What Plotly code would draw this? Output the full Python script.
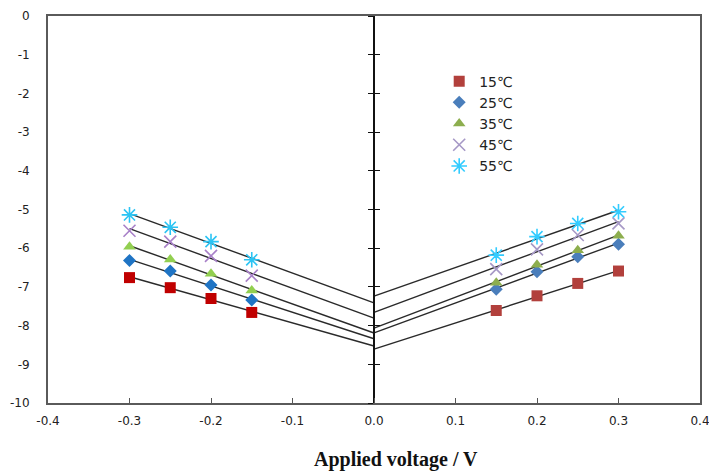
import numpy as np
import plotly.graph_objects as go

# Applied voltage (V) at which each temperature was measured
v_neg = [-0.30, -0.25, -0.20, -0.15]
v_pos = [0.15, 0.20, 0.25, 0.30]

temps = ["15℃", "25℃", "35℃", "45℃", "55℃"]

# Response at negative bias, one list per temperature
neg_15 = [-6.76, -7.02, -7.30, -7.66]
neg_25 = [-6.32, -6.59, -6.95, -7.34]
neg_35 = [-5.96, -6.29, -6.66, -7.09]
neg_45 = [-5.55, -5.83, -6.20, -6.71]
neg_55 = [-5.14, -5.46, -5.83, -6.30]

# Response at positive bias, one list per temperature
pos_15 = [-7.61, -7.23, -6.91, -6.59]
pos_25 = [-7.06, -6.61, -6.22, -5.90]
pos_35 = [-6.89, -6.43, -6.05, -5.68]
pos_45 = [-6.54, -6.03, -5.66, -5.36]
pos_55 = [-6.18, -5.70, -5.36, -5.06]

y_ticks = [0, -1, -2, -3, -4, -5, -6, -7, -8, -9, -10]
y_tick_text = ["0", "-1", "-2", "-3", "-4", "-5", "-6", "-7", "-8", "-9", "-10"]
x_ticks = [-0.4, -0.3, -0.2, -0.1, 0.0, 0.1, 0.2, 0.3, 0.4]
x_tick_text = ["-0.4", "-0.3", "-0.2", "-0.1", "0.0", "0.1", "0.2", "0.3", "0.4"]

neg_series = [neg_15, neg_25, neg_35, neg_45, neg_55]
pos_series = [pos_15, pos_25, pos_35, pos_45, pos_55]

symbols = ["square", "diamond", "triangle-up", "x-thin-open", "asterisk-open"]
sizes = [11, 10, 11, 12, 13]
neg_colors = ["#C00000", "#1F74C4", "#92CF50", "#A880C8", "#2BC4F4"]
pos_colors = ["#B2403C", "#4A7EBB", "#8DAE4E", "#A698C6", "#33CCFF"]

fig = go.Figure()

# Linear trend lines, extended to zero bias
for ys in neg_series:
    slope, icpt = np.polyfit(v_neg, ys, 1)
    xs = [v_neg[0], 0.0]
    fig.add_trace(go.Scatter(x=xs, y=[slope * x + icpt for x in xs], mode="lines",
                             line=dict(color="#2A2A2A", width=1.4), showlegend=False,
                             hoverinfo="skip"))
for ys in pos_series:
    slope, icpt = np.polyfit(v_pos, ys, 1)
    xs = [0.0, v_pos[-1]]
    fig.add_trace(go.Scatter(x=xs, y=[slope * x + icpt for x in xs], mode="lines",
                             line=dict(color="#2A2A2A", width=1.4), showlegend=False,
                             hoverinfo="skip"))


def marker(i, color):
    thin = symbols[i].endswith("open")
    return dict(symbol=symbols[i], size=sizes[i], color=color,
                line=dict(color=color, width=1.6 if thin else 0))


for i, ys in enumerate(neg_series):
    fig.add_trace(go.Scatter(x=v_neg, y=ys, mode="markers", marker=marker(i, neg_colors[i]),
                             name=temps[i], showlegend=False))
for i, ys in enumerate(pos_series):
    fig.add_trace(go.Scatter(x=v_pos, y=ys, mode="markers", marker=marker(i, pos_colors[i]),
                             name=temps[i], showlegend=True))

# Central vertical axis at V = 0 with crossing tick marks
fig.add_trace(go.Scatter(x=[], y=[], yaxis="y2", showlegend=False))
fig.add_trace(go.Scatter(x=[], y=[], yaxis="y3", showlegend=False))

tick_font = dict(family="DejaVu Sans", size=12, color="#222222")

fig.update_layout(
    width=709, height=471,
    margin=dict(l=48, r=9, t=16, b=68),
    paper_bgcolor="white", plot_bgcolor="white",
    showlegend=True,
    legend=dict(x=0.600, y=0.872, xanchor="left", yanchor="top",
                font=dict(family="DejaVu Sans", size=14, color="#222222"),
                bgcolor="rgba(0,0,0,0)", tracegroupgap=0),
    xaxis=dict(range=[-0.4, 0.4], tickvals=x_ticks, ticktext=x_tick_text,
               ticks="inside", ticklen=5, tickwidth=1.2, tickcolor="#555555",
               showline=True, mirror=True, linecolor="#5A5A5A", linewidth=2,
               showgrid=False, zeroline=False, tickfont=tick_font,
               ticklabelstandoff=6, ticklabeloverflow="allow", automargin=False),
    yaxis=dict(range=[-10, 0], tickvals=y_ticks, ticktext=y_tick_text, ticks="",
               showline=True, mirror=True, linecolor="#5A5A5A", linewidth=2,
               showgrid=False, zeroline=False, tickfont=tick_font,
               ticklabelstandoff=14, ticklabeloverflow="allow", automargin=False),
    yaxis2=dict(range=[-10, 0], tickvals=y_ticks, overlaying="y", anchor="free",
                position=0.5, side="left", showline=True, linecolor="#111111",
                linewidth=1.5, ticks="outside", ticklen=5, tickwidth=1.3,
                tickcolor="#111111", showticklabels=False, showgrid=False,
                zeroline=False, automargin=False),
    yaxis3=dict(range=[-10, 0], tickvals=y_ticks, overlaying="y", anchor="free",
                position=0.5, side="left", showline=False,
                ticks="inside", ticklen=5, tickwidth=1.3,
                tickcolor="#111111", showticklabels=False, showgrid=False,
                zeroline=False, automargin=False),
    annotations=[dict(text="<b>Applied voltage / V</b>", xref="paper", yref="paper",
                      x=0.534, y=-0.145, xanchor="center", yanchor="middle",
                      showarrow=False,
                      font=dict(family="Liberation Serif", size=20, color="#111111"))],
)

fig.write_html("out.html")
